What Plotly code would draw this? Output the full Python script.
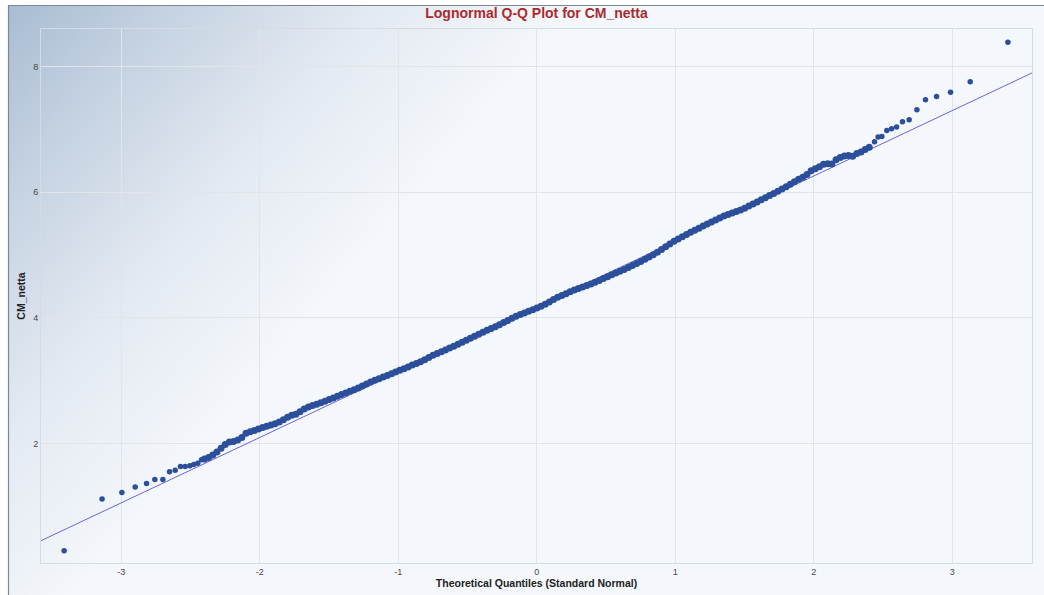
import base64
import plotly.graph_objects as go

# Sample quantiles of CM_netta (log scale) against standard-normal theoretical quantiles
lower_tail_x = [-3.413, -3.139, -2.996, -2.900, -2.818, -2.758, -2.700, -2.652,
                -2.611, -2.573, -2.539, -2.505, -2.477, -2.448, -2.421]
lower_tail_y = [0.29, 1.113, 1.219, 1.304, 1.362, 1.425, 1.425, 1.547,
                1.574, 1.632, 1.632, 1.643, 1.664, 1.685, 1.738]

body_x = [-2.40, -2.37, -2.34, -2.31, -2.28, -2.25, -2.22, -2.19, -2.16, -2.13,
          -2.10, -2.07, -2.04, -2.01, -1.98, -1.95, -1.92, -1.89, -1.86, -1.83,
          -1.80, -1.77, -1.74, -1.71, -1.68, -1.65, -1.62, -1.59, -1.56, -1.53,
          -1.50, -1.47, -1.44, -1.41, -1.38, -1.35, -1.32, -1.29, -1.26, -1.23,
          -1.20, -1.17, -1.14, -1.11, -1.08, -1.05, -1.02, -0.99, -0.96, -0.93,
          -0.90, -0.87, -0.84, -0.81, -0.78, -0.75, -0.72, -0.69, -0.66, -0.63,
          -0.60, -0.57, -0.54, -0.51, -0.48, -0.45, -0.42, -0.39, -0.36, -0.33,
          -0.30, -0.27, -0.24, -0.21, -0.18, -0.15, -0.12, -0.09, -0.06, -0.03,
          0.00, 0.03, 0.06, 0.09, 0.12, 0.15, 0.18, 0.21, 0.24, 0.27,
          0.30, 0.33, 0.36, 0.39, 0.42, 0.45, 0.48, 0.51, 0.54, 0.57,
          0.60, 0.63, 0.66, 0.69, 0.72, 0.75, 0.78, 0.81, 0.84, 0.87,
          0.90, 0.93, 0.96, 0.99, 1.02, 1.05, 1.08, 1.11, 1.14, 1.17,
          1.20, 1.23, 1.26, 1.29, 1.32, 1.35, 1.38, 1.41, 1.44, 1.47,
          1.50, 1.53, 1.56, 1.59, 1.62, 1.65, 1.68, 1.71, 1.74, 1.77,
          1.80, 1.83, 1.86, 1.89, 1.92, 1.95, 1.98, 2.01, 2.04, 2.07,
          2.10, 2.13, 2.16, 2.19, 2.22, 2.25, 2.28, 2.31, 2.34, 2.37, 2.40]
body_y = [1.751, 1.777, 1.815, 1.862, 1.924, 1.982, 2.021, 2.032, 2.053, 2.093,
          2.163, 2.184, 2.204, 2.228, 2.254, 2.275, 2.294, 2.314, 2.342, 2.376,
          2.417, 2.448, 2.466, 2.504, 2.546, 2.580, 2.602, 2.625, 2.647, 2.671,
          2.698, 2.724, 2.750, 2.777, 2.803, 2.830, 2.856, 2.884, 2.915, 2.945,
          2.976, 3.005, 3.031, 3.057, 3.083, 3.110, 3.136, 3.163, 3.190, 3.215,
          3.247, 3.272, 3.301, 3.334, 3.368, 3.402, 3.431, 3.460, 3.489, 3.518,
          3.549, 3.579, 3.610, 3.641, 3.674, 3.707, 3.740, 3.772, 3.801, 3.830,
          3.859, 3.889, 3.924, 3.958, 3.993, 4.025, 4.051, 4.077, 4.103, 4.130,
          4.158, 4.186, 4.216, 4.253, 4.291, 4.327, 4.356, 4.385, 4.415, 4.442,
          4.466, 4.489, 4.513, 4.538, 4.567, 4.596, 4.626, 4.655, 4.684, 4.713,
          4.742, 4.771, 4.803, 4.834, 4.866, 4.898, 4.934, 4.970, 5.005, 5.043,
          5.087, 5.131, 5.176, 5.220, 5.255, 5.291, 5.326, 5.362, 5.395, 5.428,
          5.461, 5.493, 5.525, 5.557, 5.589, 5.621, 5.646, 5.670, 5.693, 5.717,
          5.747, 5.780, 5.813, 5.846, 5.880, 5.913, 5.947, 5.980, 6.016, 6.053,
          6.089, 6.126, 6.166, 6.208, 6.240, 6.281, 6.343, 6.376, 6.408, 6.445,
          6.452, 6.450, 6.517, 6.552, 6.578, 6.587, 6.573, 6.616, 6.642, 6.680, 6.715]

upper_tail_x = [2.438, 2.464, 2.491, 2.527, 2.561, 2.597, 2.640, 2.688,
                2.744, 2.806, 2.886, 2.987, 3.129, 3.401]
upper_tail_y = [6.804, 6.878, 6.889, 6.984, 7.011, 7.038, 7.122, 7.154,
                7.313, 7.472, 7.525, 7.594, 7.758, 8.39]

# Fitted reference line (mean + sd * z) across the visible range
ref_x = [-3.58, 3.575]
ref_y = [0.45, 7.90]

x_ticks = [-3, -2, -1, 0, 1, 2, 3]
y_ticks = [2, 4, 6, 8]

W, H = 1044, 595
M_L, M_R, M_T, M_B = 41, 12, 29, 32
plot_w, plot_h = W - M_L - M_R, H - M_T - M_B

# Page background: white edge, a frame line and a bluish wash from the top-left corner
svg = f"""<svg xmlns='http://www.w3.org/2000/svg' width='{W}' height='{H}'>
<defs><linearGradient id='g' gradientUnits='userSpaceOnUse' x1='8' y1='5' x2='340' y2='290'>
<stop offset='0' stop-color='#a9bcd3'/>
<stop offset='0.3' stop-color='#c6d3e2'/>
<stop offset='0.65' stop-color='#e4eaf2'/>
<stop offset='1' stop-color='#f4f7fb'/>
</linearGradient></defs>
<rect x='0' y='0' width='{W}' height='{H}' fill='#ffffff'/>
<rect x='8' y='5' width='{W - 8}' height='{H - 5}' fill='url(#g)'/>
<line x1='8.5' y1='5' x2='8.5' y2='{H}' stroke='#7d8790' stroke-width='1.2'/>
<line x1='8' y1='5.5' x2='{W}' y2='5.5' stroke='#7d8790' stroke-width='1.2'/>
</svg>"""
bg_src = "data:image/svg+xml;base64," + base64.b64encode(svg.encode()).decode()

fig = go.Figure()
fig.add_trace(go.Scatter(
    x=ref_x, y=ref_y, mode="lines",
    line=dict(color="#7062e0", width=1), hoverinfo="skip", showlegend=False))
# Dense central run of quantiles
fig.add_trace(go.Scatter(
    x=body_x, y=body_y, mode="markers",
    marker=dict(color="#2b4f9a", size=7, line=dict(width=0)),
    showlegend=False))
# Sparse tails
fig.add_trace(go.Scatter(
    x=lower_tail_x + upper_tail_x, y=lower_tail_y + upper_tail_y, mode="markers",
    marker=dict(color="#2b4f9a", size=5.5, line=dict(width=0)),
    showlegend=False))

axis_font = dict(family="Liberation Sans, Arial, sans-serif", size=9, color="#4a4a4a")
fig.update_layout(
    width=W, height=H,
    margin=dict(l=M_L, r=M_R, t=M_T, b=M_B, autoexpand=False),
    paper_bgcolor="#ffffff",
    plot_bgcolor="rgba(244,247,251,0.35)",
    font=dict(family="Liberation Sans, Arial, sans-serif"),
    title=dict(
        text="<b>Lognormal Q-Q Plot for CM_netta</b>",
        x=0.5, xref="paper", xanchor="center",
        y=1 - 13 / H, yref="container", yanchor="middle",
        font=dict(size=14, color="#ac2a2e")),
    xaxis=dict(
        range=[-3.58, 3.575], tickvals=x_ticks, ticktext=[str(t) for t in x_ticks],
        showgrid=True, gridcolor="#e1e5ea", gridwidth=1, zeroline=False,
        showline=True, linecolor="#d6dbe1", mirror=True,
        ticks="", tickfont=axis_font,
        title=dict(text="<b>Theoretical Quantiles (Standard Normal)</b>",
                   font=dict(size=10.5, color="#222222"), standoff=2)),
    yaxis=dict(
        range=[0.095, 8.6], tickvals=y_ticks, ticktext=[str(t) for t in y_ticks],
        showgrid=True, gridcolor="#e1e5ea", gridwidth=1, zeroline=False,
        showline=True, linecolor="#d6dbe1", mirror=True,
        ticks="", tickfont=axis_font,
        title=dict(text="<b>CM_netta</b>",
                   font=dict(size=10.5, color="#222222"), standoff=5)),
    images=[dict(
        source=bg_src, xref="paper", yref="paper",
        x=-M_L / plot_w, y=1 + M_T / plot_h,
        sizex=W / plot_w, sizey=H / plot_h,
        xanchor="left", yanchor="top", sizing="stretch", layer="below")],
)

fig.write_html("out.html")
